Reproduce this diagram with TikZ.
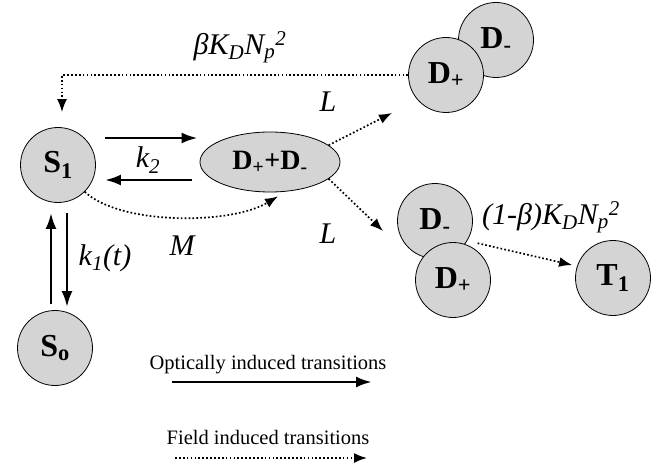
\documentclass[tikz,border=0pt]{standalone}
\usepackage{fontspec}
\setmainfont{Liberation Serif}
\usetikzlibrary{arrows.meta,shapes.geometric}
\definecolor{cellgray}{RGB}{212,212,212}
\begin{document}
\begin{tikzpicture}[x=1pt,y=-1pt,
  state/.style={circle,draw=black,line width=0.8pt,fill=cellgray,minimum size=75pt,inner sep=0pt,font=\fontsize{32}{34}\selectfont\bfseries},
  opt/.style={line width=2.8pt,-{Latex[length=16pt,width=11pt]}},
  field/.style={line width=1.7pt,dash pattern=on 1.7pt off 2.2pt,-{Latex[length=13pt,width=10pt]}},
  lab/.style={font=\fontsize{30}{32}\selectfont\itshape,inner sep=0pt},
  leg/.style={font=\fontsize{20.5}{22}\selectfont,inner sep=0pt}]
\useasboundingbox (0,0) rectangle (660,470);

% states
\node[state] (S1) at (58,165) {S\textsubscript{1}};
\node[state] (S0) at (55,348) {S\textsubscript{o}};
\node[state,ellipse,minimum width=140pt,minimum height=60pt,font=\fontsize{28}{30}\selectfont\bfseries] (Dpm) at (270,162) {D\textsubscript{+}+D\textsubscript{-}};
\node[state] (Dtm) at (496,40) {D\textsubscript{-}};
\node[state] (Dtp) at (446,75) {D\textsubscript{+}};
\node[state] (Dbm) at (435,221) {D\textsubscript{-}};
\node[state] (Dbp) at (453,280) {D\textsubscript{+}};
\node[state] (T1) at (613,278) {\raisebox{-8pt}{T\textsubscript{1}}};

% optical transitions
\draw[opt] ([xshift=9pt,yshift=27pt]S1.east) -- ([xshift=-2pt,yshift=24pt]Dpm.west);
\draw[opt] ([xshift=-8pt,yshift=-18pt]Dpm.west) -- ([xshift=9pt,yshift=-15pt]S1.east);
\draw[opt] ([xshift=-4pt,yshift=6pt]S0.north) -- ([xshift=-7pt,yshift=-10pt]S1.south);
\draw[opt] ([xshift=9pt,yshift=-10pt]S1.south) -- ([xshift=12pt,yshift=3pt]S0.north);

% field transitions
\draw[field] (S1.-45) .. controls (120,225) and (230,225) .. ([xshift=8pt,yshift=-4pt]Dpm.south);
\draw[field] (Dpm.16) -- ([xshift=-54pt,yshift=-38pt]Dtp.center);
\draw[field] (Dpm.-16) -- ([xshift=-52pt,yshift=-10pt]Dbm.center);
\draw[field] (Dtp.west) -| ([xshift=4pt,yshift=15pt]S1.north);
\draw[field] ([xshift=4pt,yshift=5pt]Dbp.57) -- ([xshift=-3pt,yshift=13pt]T1.west);

% labels
\node[lab] (lk2) at (148,160) {k\textsubscript{2}};
\node[lab] (lk1) at (105,258) {k\textsubscript{1}(t)};
\node[lab] (lM) at (182,246) {M};
\node[lab] (lL1) at (328,102) {L};
\node[lab] (lL2) at (328,234) {L};
\node[lab] (lbeta) at (240,47) {βK\textsubscript{D}N\textsubscript{p}\textsuperscript{2}};
\node[lab] (lbeta2) at (551,217) {(1-β)K\textsubscript{D}N\textsubscript{p}\textsuperscript{2}};

% legend
\node[leg] (lopt) at (268,365) {Optically induced transitions};
\node[leg] (lfld) at (268,437) {Field induced transitions};
\coordinate (oa) at (172,382);
\coordinate (ob) at (372,382);
\coordinate (fa) at (175,458);
\coordinate (fb) at (367,458);
\draw[opt] (oa) -- (ob);
\draw[field] (fa) -- (fb);
\end{tikzpicture}
\end{document}
